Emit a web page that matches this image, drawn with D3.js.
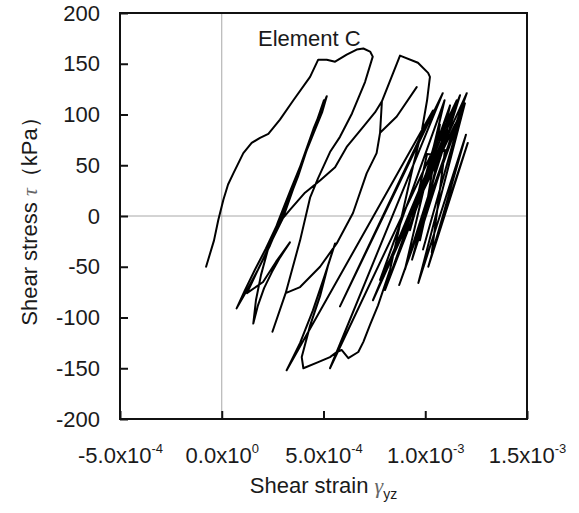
<!DOCTYPE html>
<html>
<head>
<meta charset="utf-8">
<script src="https://cdnjs.cloudflare.com/ajax/libs/d3/7.8.5/d3.min.js"></script>
<style>
    body { margin: 0; background: #fff; }
    text { font-family: "Liberation Sans", Arial, sans-serif; fill: #1a1a1a; }
    .greek { font-family: "Liberation Serif", "Times New Roman", serif; font-style: italic; fill: #666; }
</style>
</head>
<body>
<div id="chart"></div>
<script>
"use strict";

// Shear strain in units of 1e-4 in path order.
var strain = [
    -0.77, -0.38, -0.17, 0.08, 0.31, 0.57, 1.06, 1.47, 1.88, 2.29, 2.86, 3.52, 4.34, 4.74, 5.16,
    5.57, 6.14, 6.63, 6.96, 7.29, 7.42,
    7.04, 6.40, 5.81, 5.32, 4.73, 4.34, 3.85, 3.14, 2.49,
    3.14, 3.85, 4.83, 5.65, 6.45, 7.12, 7.61, 7.78, 8.60, 9.58, 8.60, 7.78, 7.87,
    7.53, 6.96, 6.14, 5.57, 4.83, 4.09, 3.35, 3.01, 2.47, 1.78, 1.19, 0.73,
    1.14, 1.63, 2.17, 2.71, 3.21, 3.70, 4.14, 4.53, 4.88, 5.16,
    4.93, 4.48, 3.94, 3.35, 2.76, 2.27, 1.93, 1.68, 1.55,
    1.78, 2.08, 2.47, 2.86, 3.35,
    2.67, 2.03, 1.24,
    1.73, 2.37, 3.11, 3.75, 4.34, 4.73, 5.02,
    4.63, 4.09, 3.55, 3.01,
    3.35, 4.09, 4.83, 5.57, 6.14, 6.96, 7.53, 7.87,
    8.76, 9.64, 10.14, 10.23,
    10.09, 9.84, 9.41, 8.86, 8.27, 7.68, 7.29, 6.96, 6.71, 6.22, 5.89, 5.65, 5.32, 4.74, 4.01,
    3.93, 4.34, 4.83, 5.22, 5.57, 5.07, 4.48, 3.85, 3.19,
    10.38, 5.81, 10.86, 5.32, 11.55, 7.43, 12.04, 8.72, 11.95, 9.66, 12.00, 10.15, 12.09,
    10.32, 10.97, 10.48, 10.09, 9.25, 10.72, 9.99, 11.12, 9.74,
    11.22, 8.02, 11.71, 9.00, 10.95, 7.78, 11.46, 9.35, 11.07, 8.51, 11.81, 9.89
];

// Shear stress (kPa), same order.
var stress = [
    -50, -24, -4, 16, 31, 42, 62, 72, 77, 81, 95, 114, 137, 154, 154,
    152, 159, 164, 165, 162, 157,
    132, 101, 78, 63, 37, 18, -24, -76, -114,
    -76, -70, -50, -27, 3, 42, 62, 82, 98, 127, 98, 82, 113,
    102, 88, 68, 48, 35, 23, 6, -2, -24, -53, -75, -91,
    -73, -53, -32, -9, 16, 40, 65, 87, 104, 118,
    102, 80, 53, 24, -6, -33, -58, -83, -106,
    -88, -71, -55, -41, -26,
    -45, -65, -76,
    -55, -29, 6, 39, 75, 97, 114,
    90, 60, 29, -2,
    6, 23, 35, 48, 68, 88, 102, 113,
    158, 151, 141, 137,
    114, 85, 50, 1, -53, -88, -107, -124, -134, -140, -132, -134, -139, -144, -150,
    -139, -108, -79, -49, -27, -58, -93, -125, -152,
    104, -89, 121, -150, 114, -83, 121, -68, 111, -66, 80, -50, 72,
    -36, 65, 60, 61, -14, 90, 1, 100, -24,
    109, -73, 119, -53, 114, -63, 90, -43, 85, -33, 104, -33
];

var xTicks = [-5, 0, 5, 10, 15];
var xTickMantissa = ["-5.0", "0.0", "5.0", "1.0", "1.5"];
var xTickExponent = ["-4", "0", "-4", "-3", "-3"];
var yTicks = [-200, -150, -100, -50, 0, 50, 100, 150, 200];

var margin = {top: 13, right: 52, bottom: 94, left: 120},
    width = 579 - margin.left - margin.right,
    height = 513 - margin.top - margin.bottom;

var svg = d3.select("#chart").append("svg")
    .attr("width", 579)
    .attr("height", 513);

var g = svg.append("g")
    .attr("transform", "translate(" + margin.left + "," + margin.top + ")");

var xScale = d3.scaleLinear().domain([-5, 15]).range([0, width]);
var yScale = d3.scaleLinear().domain([-200, 200]).range([height, 0]);

// Zero lines
g.append("line")
    .attr("x1", xScale(0)).attr("x2", xScale(0))
    .attr("y1", 0).attr("y2", height)
    .attr("stroke", "#a8a8a8").attr("stroke-width", 1);
g.append("line")
    .attr("x1", 0).attr("x2", width)
    .attr("y1", yScale(0)).attr("y2", yScale(0))
    .attr("stroke", "#a8a8a8").attr("stroke-width", 1);

// Axes, ticks pointing inwards
var xAxis = d3.axisBottom(xScale).tickValues(xTicks).tickSize(-8).tickSizeOuter(0).tickFormat("");
var yAxis = d3.axisLeft(yScale).tickValues(yTicks).tickSize(-8).tickSizeOuter(0).tickPadding(20)
    .tickFormat(function(d) { return String(d); });

var gx = g.append("g")
    .attr("transform", "translate(0," + height + ")")
    .call(xAxis);
var gy = g.append("g").call(yAxis);

gx.select(".domain").remove();
gy.select(".domain").remove();
g.selectAll(".tick line").attr("stroke", "#111").attr("stroke-width", 2);

gy.selectAll(".tick text")
    .attr("font-size", 22)
    .attr("font-family", "Liberation Sans, Arial, sans-serif")
    .attr("fill", "#1a1a1a");

// x tick labels with superscript exponents
gx.selectAll(".tick").each(function(d, i) {
    var t = d3.select(this).append("text")
        .attr("y", 44)
        .attr("text-anchor", "middle")
        .attr("font-size", 22)
        .attr("fill", "#1a1a1a");
    t.append("tspan").text(xTickMantissa[i] + "x10");
    t.append("tspan")
        .attr("font-size", 13)
        .attr("dy", -10)
        .text(xTickExponent[i]);
});

// Plot frame
g.append("rect")
    .attr("width", width)
    .attr("height", height)
    .attr("fill", "none")
    .attr("stroke", "#111")
    .attr("stroke-width", 2);

// Hysteresis path
var pts = strain.map(function(s, i) { return [s, stress[i]]; });
var line = d3.line()
    .x(function(d) { return xScale(d[0]); })
    .y(function(d) { return yScale(d[1]); });

g.append("path")
    .datum(pts)
    .attr("d", line)
    .attr("fill", "none")
    .attr("stroke", "#000")
    .attr("stroke-width", 2)
    .attr("stroke-linejoin", "round")
    .attr("stroke-linecap", "round");

// Element label
g.append("text")
    .attr("x", 138)
    .attr("y", 33)
    .attr("font-size", 22)
    .text("Element C");

// Axis titles
var xt = svg.append("text")
    .attr("x", margin.left + width / 2)
    .attr("y", 493)
    .attr("text-anchor", "middle")
    .attr("font-size", 22);
xt.append("tspan").text("Shear strain ");
xt.append("tspan").attr("class", "greek").text("\u03b3");
xt.append("tspan").attr("font-size", 14).attr("dy", 6).text("yz");

var yt = svg.append("text")
    .attr("transform", "translate(37," + (margin.top + height / 2) + ") rotate(-90)")
    .attr("text-anchor", "middle")
    .attr("font-size", 22);
yt.append("tspan").text("Shear stress ");
yt.append("tspan").attr("class", "greek").text("\u03c4");
yt.append("tspan").text("\uff08kPa\uff09");
</script>
</body>
</html>
